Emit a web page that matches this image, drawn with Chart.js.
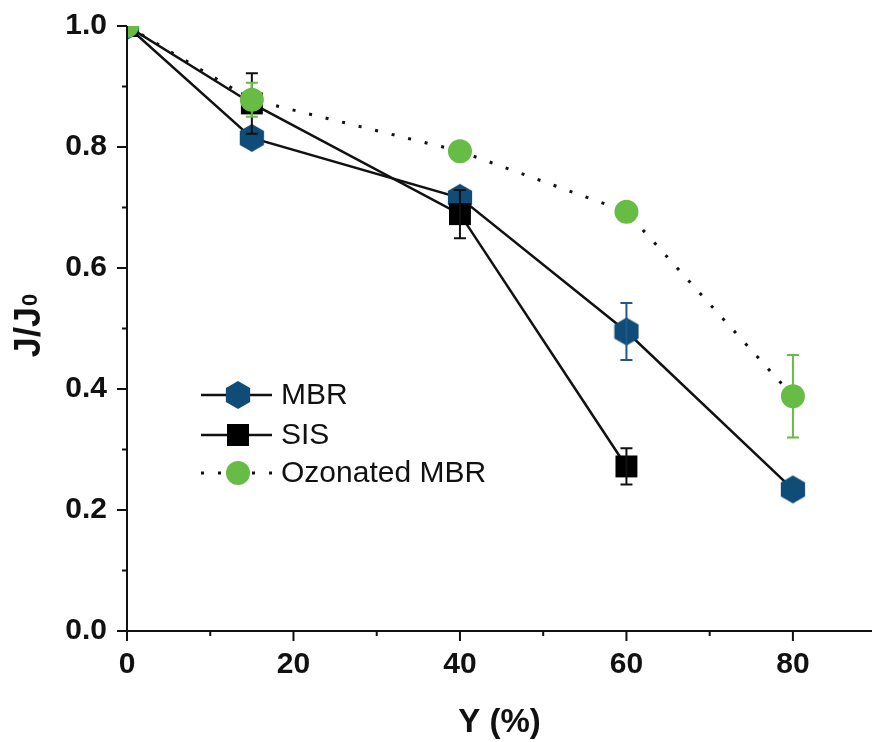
<!DOCTYPE html>
<html>
<head>
<meta charset="utf-8">
<script src="https://cdn.jsdelivr.net/npm/chart.js@4.4.0/dist/chart.umd.min.js"></script>
<style>
    html, body { margin: 0; padding: 0; background: #fff; }
    #wrap { width: 872px; height: 742px; }
</style>
</head>
<body>
<div id="wrap"><canvas id="myChart" width="872" height="742"></canvas></div>
<script>
// data
const mbrX = [0, 15, 40, 60, 80];
const mbrValues = [1.0, 0.815, 0.716, 0.495, 0.234];
const mbrErrors = [0, 0, 0, 0.047, 0];
const sisX = [0, 15, 40, 60];
const sisValues = [1.0, 0.872, 0.689, 0.272];
const sisErrors = [0, 0.05, 0.04, 0.03];
const ozX = [0, 15, 40, 60, 80];
const ozValues = [1.0, 0.878, 0.793, 0.693, 0.388];
const ozErrors = [0, 0.028, 0, 0, 0.068];
const xTickLabels = [0, 20, 40, 60, 80];
const xMinorTicks = [10, 30, 50, 70];
const yTickLabels = [0, 0.2, 0.4, 0.6, 0.8, 1.0];
const yMinorTicks = [0.1, 0.3, 0.5, 0.7, 0.9];

const blue = '#0f4c78';
const green = '#67bc45';

function makeHexagon(r, color) {
    const c = document.createElement('canvas');
    const w = Math.round(r * Math.sqrt(3)) + 2;
    const h = Math.round(2 * r) + 2;
    c.width = w;
    c.height = h;
    const ctx = c.getContext('2d');
    ctx.fillStyle = color;
    ctx.beginPath();
    for (let i = 0; i < 6; i++) {
        const a = Math.PI / 2 + i * Math.PI / 3;
        const px = w / 2 + r * Math.cos(a);
        const py = h / 2 + r * Math.sin(a);
        if (i == 0) ctx.moveTo(px, py); else ctx.lineTo(px, py);
    }
    ctx.closePath();
    ctx.fill();
    return c;
}
const hexagon = makeHexagon(14, blue);

function toPoints(xs, ys) {
    return xs.map((x, i) => ({ x: x, y: ys[i] }));
}

const errorBars = {
    id: 'errorBars',
    afterDatasetDraw(chart, args) {
        const ds = chart.data.datasets[args.index];
        if (!ds.errors) return;
        const ctx = chart.ctx;
        const xs = chart.scales.x, ys = chart.scales.y;
        ctx.save();
        ctx.strokeStyle = ds.errorColor;
        ctx.lineWidth = 2;
        ds.data.forEach((p, i) => {
            const e = ds.errors[i];
            if (!e) return;
            const x = xs.getPixelForValue(p.x);
            const y1 = ys.getPixelForValue(p.y + e);
            const y2 = ys.getPixelForValue(p.y - e);
            ctx.beginPath();
            ctx.moveTo(x, y1); ctx.lineTo(x, y2);
            ctx.moveTo(x - 6, y1); ctx.lineTo(x + 6, y1);
            ctx.moveTo(x - 6, y2); ctx.lineTo(x + 6, y2);
            ctx.stroke();
        });
        ctx.restore();
    }
};

const axesAndLabels = {
    id: 'axesAndLabels',
    afterDraw(chart) {
        const ctx = chart.ctx;
        const a = chart.chartArea;
        const xs = chart.scales.x, ys = chart.scales.y;
        ctx.save();
        ctx.strokeStyle = '#111';
        ctx.lineWidth = 2;
        ctx.beginPath();
        ctx.moveTo(a.left, a.top);
        ctx.lineTo(a.left, a.bottom);
        ctx.lineTo(a.right, a.bottom);
        xTickLabels.forEach(v => { const x = xs.getPixelForValue(v); ctx.moveTo(x, a.bottom); ctx.lineTo(x, a.bottom + 10); });
        xMinorTicks.forEach(v => { const x = xs.getPixelForValue(v); ctx.moveTo(x, a.bottom); ctx.lineTo(x, a.bottom + 5); });
        yTickLabels.forEach(v => { const y = ys.getPixelForValue(v); ctx.moveTo(a.left, y); ctx.lineTo(a.left - 10, y); });
        yMinorTicks.forEach(v => { const y = ys.getPixelForValue(v); ctx.moveTo(a.left, y); ctx.lineTo(a.left - 5, y); });
        ctx.stroke();

        // axis titles
        ctx.fillStyle = '#111';
        ctx.font = 'bold 33px "Liberation Sans", Arial, sans-serif';
        ctx.textAlign = 'center';
        ctx.textBaseline = 'alphabetic';
        ctx.fillText('Y (%)', (a.left + a.right) / 2, 732);

        ctx.save();
        ctx.translate(40, 326);
        ctx.rotate(-Math.PI / 2);
        ctx.font = 'bold 36px "Liberation Sans", Arial, sans-serif';
        const main = 'J/J';
        const wMain = ctx.measureText(main).width;
        ctx.font = 'bold 22px "Liberation Sans", Arial, sans-serif';
        const wSub = ctx.measureText('0').width;
        const start = -(wMain + wSub) / 2;
        ctx.textAlign = 'left';
        ctx.font = 'bold 36px "Liberation Sans", Arial, sans-serif';
        ctx.fillText(main, start, 0);
        ctx.font = 'bold 22px "Liberation Sans", Arial, sans-serif';
        ctx.fillText('0', start + wMain + 1, -3);
        ctx.restore();

        // legend
        const rows = [
            { label: 'MBR', y: 395, dash: [], kind: 'hex' },
            { label: 'SIS', y: 435, dash: [], kind: 'square' },
            { label: 'Ozonated MBR', y: 473, dash: [3, 14], kind: 'circle' }
        ];
        rows.forEach(r => {
            ctx.save();
            ctx.strokeStyle = '#111';
            ctx.lineWidth = r.dash.length ? 3 : 2.5;
            ctx.setLineDash(r.dash);
            ctx.beginPath();
            ctx.moveTo(201, r.y);
            ctx.lineTo(272, r.y);
            ctx.stroke();
            ctx.restore();
            if (r.kind == 'hex') {
                ctx.drawImage(hexagon, 238 - hexagon.width / 2, r.y - hexagon.height / 2);
            } else if (r.kind == 'square') {
                ctx.fillStyle = '#000';
                ctx.fillRect(238 - 11, r.y - 11, 22, 22);
            } else {
                ctx.fillStyle = green;
                ctx.beginPath();
                ctx.arc(238, r.y, 12, 0, Math.PI * 2);
                ctx.fill();
            }
            ctx.fillStyle = '#111';
            ctx.font = '30px "Liberation Sans", Arial, sans-serif';
            ctx.textAlign = 'left';
            ctx.textBaseline = 'middle';
            ctx.fillText(r.label, 281, r.y + 1);
        });
        ctx.restore();
    }
};

const tickFont = { family: '"Liberation Sans", Arial, sans-serif', size: 30, weight: 'bold' };

new Chart('myChart', {
    type: 'line',
    data: {
        datasets: [
            {
                label: 'MBR',
                data: toPoints(mbrX, mbrValues),
                errors: mbrErrors,
                errorColor: '#1d5a86',
                borderColor: '#111',
                borderWidth: 2.5,
                pointStyle: hexagon,
                pointRadius: 14,
                order: 3,
                clip: 0
            },
            {
                label: 'SIS',
                data: toPoints(sisX, sisValues),
                errors: sisErrors,
                errorColor: '#111',
                borderColor: '#111',
                borderWidth: 2.5,
                pointStyle: 'rect',
                pointRadius: 15.5,
                pointBackgroundColor: '#000',
                pointBorderWidth: 0,
                order: 2,
                clip: 0
            },
            {
                label: 'Ozonated MBR',
                data: toPoints(ozX, ozValues),
                errors: ozErrors,
                errorColor: green,
                borderColor: '#111',
                borderWidth: 3,
                borderDash: [3, 14],
                pointStyle: 'circle',
                pointRadius: 12,
                pointBackgroundColor: green,
                pointBorderWidth: 0,
                order: 1,
                clip: 0
            }
        ]
    },
    options: {
        responsive: false,
        animation: false,
        events: [],
        layout: { autoPadding: false, padding: { top: 26, right: 0, left: 0, bottom: 0 } },
        plugins: { legend: { display: false }, tooltip: { enabled: false } },
        scales: {
            x: {
                type: 'linear',
                min: 0,
                max: 89.5,
                afterBuildTicks: s => { s.ticks = xTickLabels.map(v => ({ value: v })); },
                afterFit: s => { s.height = 111; s.paddingLeft = 0; s.paddingRight = 0; },
                grid: { drawOnChartArea: false, color: 'rgba(0,0,0,0)', tickLength: 10 },
                border: { display: false },
                ticks: { font: tickFont, color: '#111', padding: 6, maxRotation: 0, autoSkip: false, callback: v => v }
            },
            y: {
                type: 'linear',
                min: 0,
                max: 1.0,
                afterBuildTicks: s => { s.ticks = yTickLabels.map(v => ({ value: v })); },
                afterFit: s => { s.width = 127; s.paddingTop = 0; s.paddingBottom = 0; },
                grid: { drawOnChartArea: false, color: 'rgba(0,0,0,0)', tickLength: 10 },
                border: { display: false },
                ticks: { font: tickFont, color: '#111', padding: 10, autoSkip: false, callback: v => v.toFixed(1) }
            }
        }
    },
    plugins: [errorBars, axesAndLabels]
});
</script>
</body>
</html>
